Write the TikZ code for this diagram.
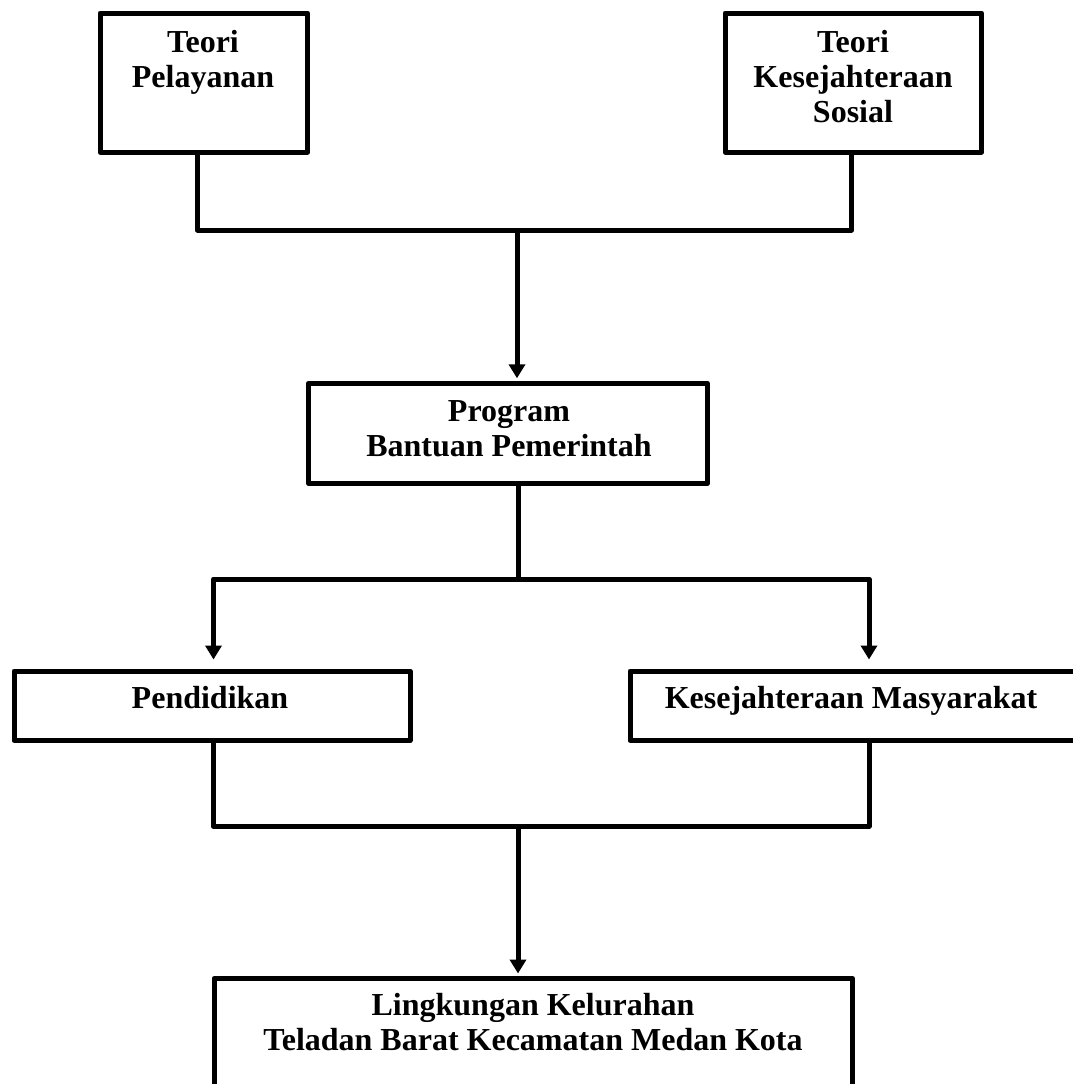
\documentclass[tikz,border=0pt]{standalone}
\usepackage{fontspec}
\setmainfont{Liberation Serif}
\usetikzlibrary{arrows.meta}
\begin{document}
\begin{tikzpicture}[x=1pt,y=-1pt,
  box/.style={draw=black, line width=5pt, line join=round, rectangle, inner sep=0pt, fill=none},
  lbl/.style={font=\fontsize{32}{35}\selectfont\bfseries, align=center, inner sep=0pt},
  conn/.style={draw=black, line width=5pt, line join=round},
  arr/.style={conn, -{Triangle[width=16pt,length=14pt]}}]
\useasboundingbox (0,0) rectangle (1072,1084);
% boxes
\node[box, minimum width=207.5pt, minimum height=139pt] (tp) at (203.75,82.5) {};
\node[box, minimum width=256.5pt, minimum height=139pt] (tk) at (853.25,82.5) {};
\node[box, minimum width=399pt, minimum height=100pt] (prog) at (508,433.3) {};
\node[box, minimum width=396pt, minimum height=69.5pt] (pend) at (212,705.75) {};
\node[box, minimum width=455pt, minimum height=69.5pt] (kes) at (857.5,705.75) {};
\node[box, minimum width=638.5pt, minimum height=121.5pt] (ling) at (533.25,1039.25) {};
% texts
\node[lbl, anchor=north] (t1) at (203,30) {Teori\\Pelayanan};
\node[lbl, anchor=north] (t2) at (853,30) {Teori\\Kesejahteraan\\Sosial};
\node[lbl, anchor=north] (t3) at (509,400) {Program\\Bantuan Pemerintah};
\node[lbl, anchor=base] (t4) at (210,708) {Pendidikan};
\node[lbl, anchor=base] (t5) at (851,708) {Kesejahteraan Masyarakat};
\node[lbl, anchor=north] (t6) at (533,993) {Lingkungan Kelurahan\\Teladan Barat Kecamatan Medan Kota};
% junction coordinates
\coordinate (a1) at (197.5,230);
\coordinate (b1) at (851.5,230);
\coordinate (c1) at (517,230);
\coordinate (d1) at (518,579);
\coordinate (a2) at (213.5,579);
\coordinate (b2) at (869,579);
\coordinate (a3) at (213,826);
\coordinate (b3) at (869,826);
\coordinate (c3) at (518,826);
% connectors
\draw[conn] (tp.south -| a1) -- (a1) -- (b1) -- (tk.south -| b1);
\draw[arr, shorten >=2.5pt] (c1) -- (prog.north -| c1);
\draw[conn] (prog.south -| d1) -- (d1);
\draw[arr, shorten >=9pt] (d1) -- (a2) -- (pend.north -| a2);
\draw[arr, shorten >=9pt] (d1) -- (b2) -- (kes.north -| b2);
\draw[conn] (pend.south -| a3) -- (a3) -- (b3) -- (kes.south -| b3);
\draw[arr, shorten >=2.5pt] (c3) -- (ling.north -| c3);
\end{tikzpicture}
\end{document}
